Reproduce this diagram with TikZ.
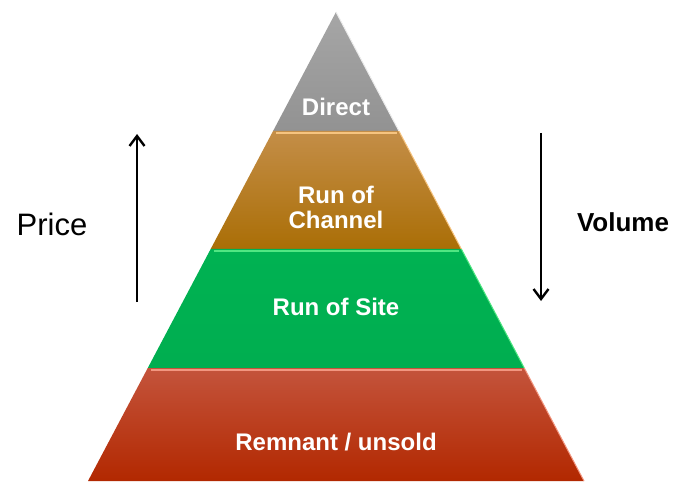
\documentclass[tikz,border=0pt]{standalone}
\usepackage{fontspec}
\setmainfont{Liberation Sans}
\usetikzlibrary{calc,arrows.meta}
\definecolor{grayL}{RGB}{166,166,166}
\definecolor{grayD}{RGB}{146,146,146}
\definecolor{goldT}{RGB}{196,142,72}
\definecolor{goldB}{RGB}{170,110,6}
\definecolor{goldH}{RGB}{246,196,128}
\definecolor{greenT}{RGB}{0,178,82}
\definecolor{greenB}{RGB}{0,174,80}
\definecolor{greenH}{RGB}{80,230,130}
\definecolor{redT}{RGB}{196,84,60}
\definecolor{redB}{RGB}{178,40,0}
\definecolor{redH}{RGB}{242,150,128}
\tikzset{
  layertext/.style={text=white,font=\bfseries\fontsize{24}{27}\selectfont,align=center},
  sidetext/.style={text=black},
  hl/.style={line width=2.2pt},
  edgehl/.style={line width=1pt},
  axisarrow/.style={line width=2.8pt,-{Straight Barb[length=10pt,width=15pt,line width=2.4pt]}}
}
\begin{document}
\begin{tikzpicture}[x=1pt,y=-1pt]
\useasboundingbox (0,0) rectangle (676,481);
\coordinate (A) at (336,12);
\coordinate (BL) at (88,481);
\coordinate (BR) at (584,481);
\coordinate (L1) at ($(A)!0.2537!(BL)$);
\coordinate (R1) at ($(A)!0.2537!(BR)$);
\coordinate (L2) at ($(A)!0.5053!(BL)$);
\coordinate (R2) at ($(A)!0.5053!(BR)$);
\coordinate (L3) at ($(A)!0.7591!(BL)$);
\coordinate (R3) at ($(A)!0.7591!(BR)$);
% layers
\shade[top color=grayL,bottom color=grayD] (A) -- (R1) -- (L1) -- cycle;
\shade[top color=goldT,bottom color=goldB] (L1) -- (R1) -- (R2) -- (L2) -- cycle;
\shade[top color=greenT,bottom color=greenB] (L2) -- (R2) -- (R3) -- (L3) -- cycle;
\shade[top color=redT,bottom color=redB] (L3) -- (R3) -- (BR) -- (BL) -- cycle;
% right edge highlights
\draw[edgehl,white!85!gray] (A) -- (R1);
\draw[edgehl,goldH] (R1) -- (R2);
\draw[edgehl,greenH] (R2) -- (R3);
\draw[edgehl,redH] (R3) -- (BR);
% top highlights
\draw[hl,goldH] ($(L1)+(3,2)$) -- ($(R1)+(-2,2)$);
\draw[hl,greenH] ($(L2)+(3,2)$) -- ($(R2)+(-2,2)$);
\draw[hl,redH] ($(L3)+(3,2)$) -- ($(R3)+(-2,2)$);
% labels
\node[layertext] (direct) at (336,107) {Direct};
\node[layertext] (channel) at (336,207) {Run of\\[-2pt]Channel};
\node[layertext] (site) at (336,307) {Run of Site};
\node[layertext] (remnant) at (336,442) {Remnant / unsold};
% side arrows
\coordinate (p0) at (137,302);
\coordinate (p1) at (137,134);
\draw[axisarrow] (p0) -- (p1);
\coordinate (v0) at (541,133);
\coordinate (v1) at (541,301);
\draw[axisarrow] (v0) -- (v1);
\node[sidetext,font=\fontsize{31}{34}\selectfont] (price) at (52,224) {Price};
\node[sidetext,font=\bfseries\fontsize{26}{30}\selectfont] (volume) at (623,222) {Volume};
\end{tikzpicture}
\end{document}
